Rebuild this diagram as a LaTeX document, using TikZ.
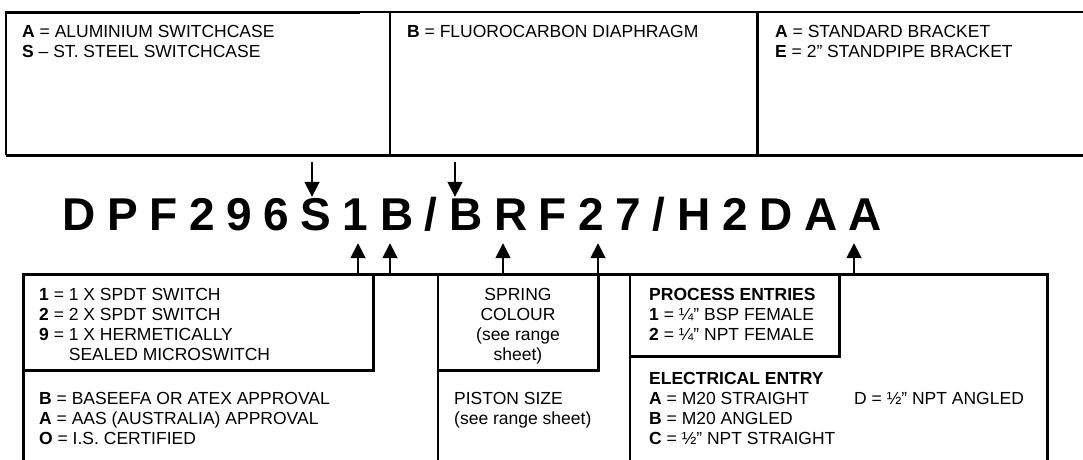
\documentclass[tikz,border=0pt]{standalone}
\usepackage{fontspec}
\setmainfont{Liberation Sans}
\usetikzlibrary{positioning,arrows.meta}

\begin{document}
\begin{tikzpicture}[x=1pt,y=-1pt,
  pn/.style={inner sep=0pt,text height=33pt,text depth=13pt,font=\fontsize{46}{46}\selectfont\bfseries},
  key/.style={inner sep=0pt,anchor=base west,align=left,font=\fontsize{17.5}{20}\selectfont},
  pointer/.style={line width=1.8pt,-{Triangle[width=15pt,length=15pt]}},
  rule/.style={line width=1.8pt},
  heavy/.style={line width=3pt}]
\useasboundingbox (0,0) rectangle (1083,459);
% upper boxes
\draw[rule] (6,155) -- (6,12) -- (1090,12);
\draw[heavy] (6,12) -- (360,12);
\draw[heavy] (6,155) -- (1090,155);
\draw[rule] (390,12) -- (390,155);
\draw[heavy] (757,12) -- (757,155);
% multi-line texts sit on their last baseline
\node[key] (case) at (22,57) {\textbf{A} = ALUMINIUM SWITCHCASE\\\textbf{S} -- ST. STEEL SWITCHCASE};
\node[key] (diaph) at (407,37) {\textbf{B} = FLUOROCARBON DIAPHRAGM};
\node[key] (brkt) at (775,57) {\textbf{A} = STANDARD BRACKET\\\textbf{E} = 2" STANDPIPE BRACKET};
% part number
\node[pn,anchor=base west] (c1) at (62,230) {D};
\foreach \ch [count=\i from 2,remember=\i as \j (initially 1)] in {P,F,2,9,6,S,1,B,/,B,R,F,2,7,/,H,2,D,A,A}
  \node[pn,base right=11.2pt of c\j] (c\i) {\ch};
\coordinate (dS) at (312,162);
\coordinate (dB) at (455,162);
\draw[pointer] (dS) -- (dS |- c7.north);
\draw[pointer] (dB) -- (dB |- c11.north);
% lower boxes
\coordinate (u1) at (358,274);
\coordinate (uB) at (390,274);
\coordinate (uR) at (503,274);
\coordinate (u2) at (598,274);
\coordinate (uA) at (854,274);
\draw[heavy] (23,460) -- (23,274) -- (1047,274) -- (1047,460);
\draw[heavy] (23,274) rectangle (373,370);
\draw[rule] (438,274) -- (438,460);
\draw[heavy] (438,370) -- (598,370) -- (598,274);
\draw[rule] (630,274) -- (630,460);
\draw[heavy] (630,356) -- (839,356) -- (839,274);
\foreach \u/\c in {u1/c8,uB/c9,uR/c12,u2/c14,uA/c21}
  \draw[pointer] (\u) -- (\u |- \c.south);
\node[key] (switch) at (39,360) {\textbf{1} = 1 X SPDT SWITCH\\\textbf{2} = 2 X SPDT SWITCH\\\textbf{9} = 1 X HERMETICALLY\\\phantom{\textbf{9} = }SEALED MICROSWITCH};
\node[key] (approval) at (39,444) {\textbf{B} = BASEEFA OR ATEX APPROVAL\\\textbf{A} = AAS (AUSTRALIA) APPROVAL\\\textbf{O} = I.S. CERTIFIED};
\node[key,align=center,anchor=base] (spring) at (518,360) {SPRING\\COLOUR\\(see range\\sheet)};
\node[key] (piston) at (454,424) {PISTON SIZE\\(see range sheet)};
\node[key] (process) at (649,340) {\textbf{PROCESS ENTRIES}\\\textbf{1} = ¼" BSP FEMALE\\\textbf{2} = ¼" NPT FEMALE};
\node[key] (elec) at (649,444) {\textbf{ELECTRICAL ENTRY}\\\textbf{A} = M20 STRAIGHT\\\textbf{B} = M20 ANGLED\\\textbf{C} = ½" NPT STRAIGHT};
\node[key] (angled) at (854,404) {D = ½" NPT ANGLED};
\end{tikzpicture}
\end{document}
